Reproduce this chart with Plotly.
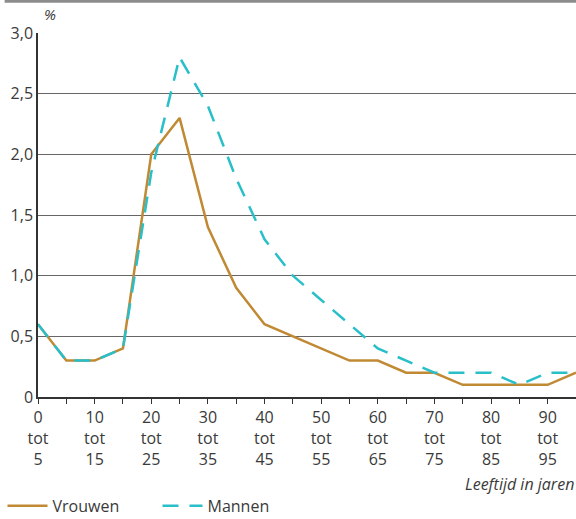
import plotly.graph_objects as go

# leeftijdsklassen (begin van de klasse)
leeftijd = [0, 5, 10, 15, 20, 25, 30, 35, 40, 45, 50, 55, 60, 65, 70, 75, 80, 85, 90, 95]
vrouwen = [0.6, 0.3, 0.3, 0.4, 2.0, 2.3, 1.4, 0.9, 0.6, 0.5, 0.4, 0.3, 0.3, 0.2, 0.2, 0.1, 0.1, 0.1, 0.1, 0.2]
mannen = [0.6, 0.3, 0.3, 0.4, 1.85, 2.8, 2.4, 1.8, 1.3, 1.0, 0.8, 0.6, 0.4, 0.3, 0.2, 0.2, 0.2, 0.1, 0.2, 0.2]

x_ticks = list(range(0, 100, 5))
x_labels = [f"{v}<br>tot<br>{v + 5}" if v % 10 == 0 else "" for v in x_ticks]
y_ticks = [0, 0.5, 1.0, 1.5, 2.0, 2.5, 3.0]
y_labels = ["0", "0,5", "1,0", "1,5", "2,0", "2,5", "3,0"]

FONT = "Open Sans"
TEXT = "#3a3a3a"

fig = go.Figure()
fig.add_trace(go.Scatter(x=leeftijd, y=vrouwen, mode="lines", name="Vrouwen",
                         line=dict(color="#C08A35", width=2.5)))
fig.add_trace(go.Scatter(x=leeftijd, y=mannen, mode="lines", name="Mannen",
                         line=dict(color="#29BFC9", width=2.5, dash="16px,11px")))

fig.update_layout(
    width=576, height=519,
    margin=dict(l=38, r=0, t=33, b=122, autoexpand=False),
    plot_bgcolor="white", paper_bgcolor="white",
    font=dict(family=FONT, size=16, color=TEXT),
    showlegend=True,
    legend=dict(orientation="h", x=-0.066, y=-0.252, xanchor="left", yanchor="top",
                entrywidth=100, font=dict(size=16, color=TEXT),
                itemwidth=40, tracegroupgap=0),
)

fig.update_xaxes(range=[0, 95], tickvals=x_ticks, ticktext=x_labels,
                 ticks="outside", ticklen=5, tickcolor="#333333",
                 showline=True, linecolor="#333333", linewidth=1.5,
                 showgrid=False, zeroline=False, automargin=False)
fig.update_yaxes(range=[0, 3.0], tickvals=y_ticks, ticktext=y_labels,
                 ticks="", showline=True, linecolor="#333333", linewidth=1.5,
                 showgrid=True, gridcolor="#666666", gridwidth=1, zeroline=False,
                 automargin=False)

fig.add_annotation(text="<i>%</i>", xref="paper", yref="paper", x=0.008, y=1.02,
                   xanchor="left", yanchor="bottom", showarrow=False,
                   font=dict(size=15, color=TEXT))
fig.add_annotation(text="<i>Leeftijd in jaren</i>", xref="paper", yref="paper",
                   x=1.0, y=-0.24, xanchor="right", yanchor="middle", showarrow=False,
                   font=dict(size=16, color=TEXT))
fig.add_shape(type="rect", xref="paper", yref="paper", x0=-0.062, x1=1.0,
              y0=1.083, y1=1.095, fillcolor="#8c8c8c", line=dict(width=0))

fig.write_html("out.html", config={"displayModeBar": False},
               post_script="document.body.style.margin='0';")
